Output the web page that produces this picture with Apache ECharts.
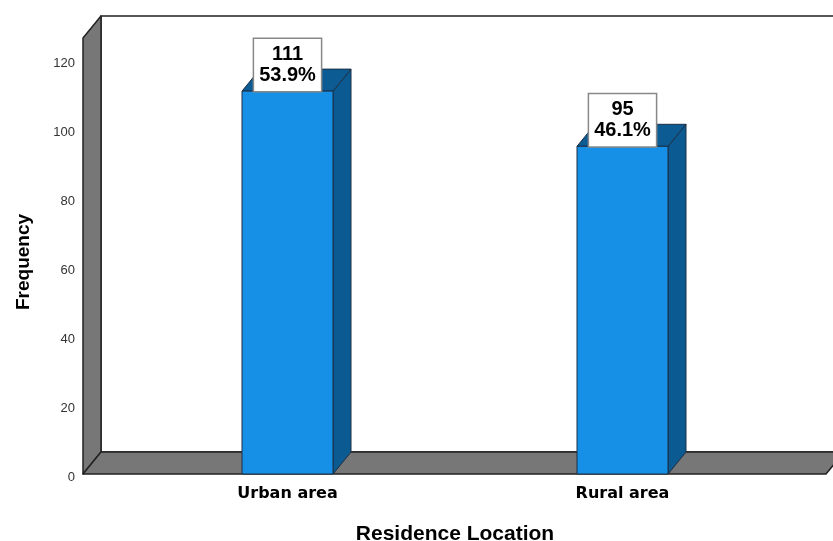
<!DOCTYPE html>
<html>
<head>
<meta charset="utf-8">
<script src="https://cdn.jsdelivr.net/npm/echarts@6/dist/echarts.min.js"></script>
<style>
  html, body { margin: 0; padding: 0; background: #fff; }
  #chart { width: 833px; height: 541px; }
</style>
</head>
<body>
<div id="chart"></div>
<script>
// Residence location counts
const categories = ['Urban area', 'Rural area'];
const counts = [111, 95];
const yTicks = [0, 20, 40, 60, 80, 100, 120];

const total = counts.reduce((a, b) => a + b, 0);
const percents = counts.map(c => (c / total * 100).toFixed(1) + '%');

// 3D look: depth offset of the back plane
const DX = 18, DY = -22;
const BAR_W = 91;
const WALL_LEFT_PAD = 37;   // left wall sits outside the category band
const FLOOR_RIGHT_PAD = 36;

const chart = echarts.init(document.getElementById('chart'));

function frameItem(params, api) {
  const cs = params.coordSys;
  const y0 = api.coord([0, 0])[1];
  const yTop = cs.y;
  const xl = cs.x - WALL_LEFT_PAD;
  const xr = cs.x + cs.width + FLOOR_RIGHT_PAD;
  const stroke = '#222';
  return {
    type: 'group',
    silent: true,
    children: [
      // back wall
      { type: 'rect', shape: { x: xl + DX, y: yTop + DY, width: xr - xl + 40, height: y0 - yTop },
        style: { fill: '#fff', stroke: stroke, lineWidth: 1.5 } },
      // left wall
      { type: 'polygon', shape: { points: [[xl, y0], [xl, yTop], [xl + DX, yTop + DY], [xl + DX, y0 + DY]] },
        style: { fill: '#777', stroke: stroke, lineWidth: 1.5, lineJoin: 'round' } },
      // floor
      { type: 'polygon', shape: { points: [[xl, y0], [xr, y0], [xr + DX, y0 + DY], [xl + DX, y0 + DY]] },
        style: { fill: '#777', stroke: stroke, lineWidth: 1.5, lineJoin: 'round' } }
    ]
  };
}

function barItem(params, api) {
  const idx = api.value(0);
  const val = api.value(1);
  const top = api.coord([idx, val]);
  const bot = api.coord([idx, 0]);
  const xl = top[0] - BAR_W / 2, xr = top[0] + BAR_W / 2;
  const yt = top[1], yb = bot[1];
  const edge = '#1c2f45';
  return {
    type: 'group',
    children: [
      { type: 'polygon', shape: { points: [[xr, yb], [xr, yt], [xr + DX, yt + DY], [xr + DX, yb + DY]] },
        style: { fill: '#0b5a91', stroke: edge, lineWidth: 1 } },
      { type: 'polygon', shape: { points: [[xl, yt], [xr, yt], [xr + DX, yt + DY], [xl + DX, yt + DY]] },
        style: { fill: '#0c5b93', stroke: edge, lineWidth: 1 } },
      { type: 'rect', shape: { x: xl, y: yt, width: BAR_W, height: yb - yt },
        style: { fill: '#1590e6', stroke: edge, lineWidth: 1 } },
      { type: 'text', x: top[0], y: yt,
        style: {
          text: counts[params.dataIndex] + '\n' + percents[params.dataIndex],
          align: 'center', verticalAlign: 'bottom',
          fontFamily: 'Liberation Sans', fontWeight: 'bold', fontSize: 20, lineHeight: 21,
          fill: '#000', backgroundColor: '#fff', borderColor: '#888', borderWidth: 1.5,
          padding: [5, 5, 5, 5]
        } }
    ]
  };
}

chart.setOption({
  animation: false,
  backgroundColor: '#fff',
  grid: { left: 120, right: 43, top: 38, bottom: 67, outerBoundsMode: 'none', containLabel: false },
  xAxis: {
    type: 'category',
    data: categories,
    axisLine: { show: false },
    axisTick: { show: false },
    axisLabel: { margin: 12, color: '#000', fontFamily: 'DejaVu Sans', fontWeight: 'bold', fontSize: 16 },
    name: 'Residence Location',
    nameLocation: 'middle',
    nameGap: 50,
    nameTextStyle: { color: '#000', fontFamily: 'Liberation Sans', fontWeight: 'bold', fontSize: 21 }
  },
  yAxis: {
    type: 'value',
    min: 0,
    max: 126.4,
    interval: 20,
    offset: WALL_LEFT_PAD,
    axisLine: { show: false },
    axisTick: { show: false },
    splitLine: { show: false },
    axisLabel: {
      margin: 8, color: '#333', fontFamily: 'Liberation Sans', fontSize: 13,
      verticalAlign: 'top', lineHeight: 7,
      formatter: v => (yTicks.indexOf(v) >= 0 ? String(v) : '')
    },
    name: 'Frequency',
    nameLocation: 'middle',
    nameGap: 50,
    nameTextStyle: {
      color: '#000', fontFamily: 'Liberation Sans', fontWeight: 'bold', fontSize: 19,
      padding: [0, 12, 0, 0]
    }
  },
  series: [
    {
      type: 'custom',
      renderItem: frameItem,
      data: [[0, 0]],
      silent: true,
      z: 1
    },
    {
      type: 'custom',
      renderItem: barItem,
      data: counts.map((c, i) => [i, c]),
      z: 2
    }
  ]
});
</script>
</body>
</html>
